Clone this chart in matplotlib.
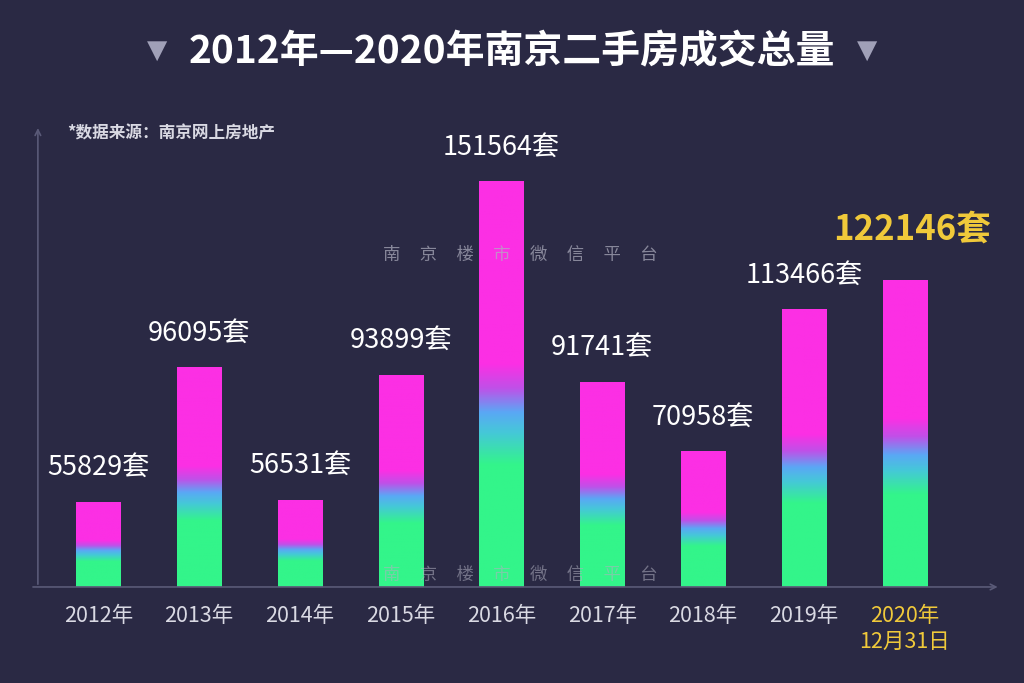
import numpy as np
import matplotlib.pyplot as plt
from matplotlib.colors import LinearSegmentedColormap

plt.rcParams['font.family'] = ['Noto Sans CJK SC', 'DejaVu Sans']

# 数据
years = ["2012年", "2013年", "2014年", "2015年", "2016年", "2017年", "2018年", "2019年", "2020年\n12月31日"]
volumes = [55829, 96095, 56531, 93899, 151564, 91741, 70958, 113466, 122146]

bg = "#2a2944"
axis_color = "#5a5a78"
label_color = "#d9d9e3"
gold = "#f0c93a"

# Farbverlauf: grün unten, blau in der Mitte, magenta oben
cmap = LinearSegmentedColormap.from_list("bar", [
    (0.0, "#33f58a"), (0.30, "#33f58a"), (0.38, "#45c8d8"),
    (0.43, "#5aa8f5"), (0.49, "#c050e8"), (0.55, "#fc2fe4"), (1.0, "#fc2fe4")])

fig = plt.figure(figsize=(10.24, 6.83), dpi=100, facecolor=bg)
ax = fig.add_axes([0.037, 0.1406, 0.94, 0.676], facecolor=bg)

y0 = 30600
ytop = 168500
x = np.arange(len(years))
w = 0.44

for xi, v in zip(x, volumes):
    grad = np.linspace(0, 1, 256).reshape(-1, 1)
    ax.imshow(grad, cmap=cmap, origin="lower", aspect="auto",
              extent=[xi - w / 2, xi + w / 2, y0, v], zorder=2)

ax.set_xlim(-0.6, len(years) - 0.05)
ax.set_ylim(y0, ytop)

for s in ax.spines.values():
    s.set_visible(False)
ax.set_yticks([])
ax.set_xticks(x)
ax.set_xticklabels(years, fontsize=15.5, color=label_color)
ax.tick_params(axis="x", length=0, pad=13)
ax.get_xticklabels()[-1].set_color(gold)

# Achsen mit Pfeilen
ax.annotate("", xy=(0, 1.0), xytext=(0, 0), xycoords="axes fraction",
            arrowprops=dict(arrowstyle="->", color=axis_color, lw=1.2))
ax.annotate("", xy=(1.0, 0), xytext=(-0.008, 0), xycoords="axes fraction",
            arrowprops=dict(arrowstyle="->", color=axis_color, lw=1.2))

# Werte über den Balken
for xi, v in zip(x[:-1], volumes[:-1]):
    ax.annotate(f"{v}套", xy=(xi, v), xytext=(0, 25), textcoords="offset points",
                ha="center", va="center", fontsize=19.5, color="white", zorder=5)
ax.annotate(f"{volumes[-1]}套", xy=(x[-1], volumes[-1]), xytext=(5, 37),
            textcoords="offset points", ha="center", va="center",
            fontsize=25, fontweight="bold", color=gold, zorder=5)

# Titel
fig.text(0.5, 0.925, "2012年—2020年南京二手房成交总量", ha="center", va="center",
         fontsize=28, fontweight="bold", color="white")
fig.text(0.153, 0.925, "▼", ha="center", va="center", fontsize=19, color="#a0a0b8",
         family=["DejaVu Sans"])
fig.text(0.847, 0.925, "▼", ha="center", va="center", fontsize=19, color="#a0a0b8",
         family=["DejaVu Sans"])

fig.text(0.066, 0.805, "*数据来源：南京网上房地产", ha="left", va="center",
         fontsize=12, fontweight="bold", color=label_color)

# Wasserzeichen
wm = "南     京     楼     市     微     信     平     台"
fig.text(0.508, 0.627, wm, ha="center", va="center", fontsize=12.5,
         color="#b0b0c0", alpha=0.7, zorder=10)
fig.text(0.508, 0.158, wm, ha="center", va="center", fontsize=12.5,
         color="#b0b0c0", alpha=0.55, zorder=10)

plt.savefig("out.png", dpi=100, facecolor=bg)
